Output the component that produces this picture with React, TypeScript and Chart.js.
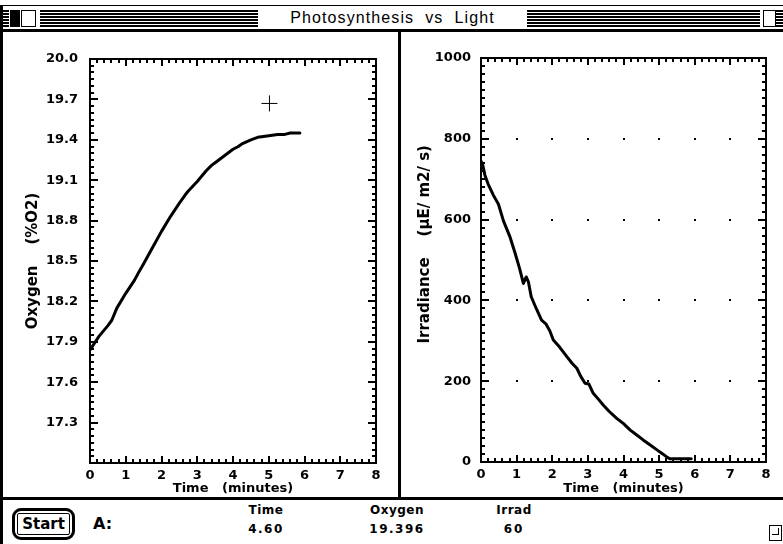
import React, { useEffect, useRef } from 'react';
import { Chart, registerables } from 'chart.js';

Chart.register(...registerables);

// ---------- data ----------
const timeTicks = [0, 1, 2, 3, 4, 5, 6, 7, 8];
const oxygenTicks = [17.3, 17.6, 17.9, 18.2, 18.5, 18.8, 19.1, 19.4, 19.7, 20.0];
const irradTicks = [0, 200, 400, 600, 800, 1000];

const oxygenTime = [0, 0.25, 0.5, 0.61, 0.75, 1, 1.25, 1.35, 1.5, 1.75, 2, 2.25, 2.5, 2.66, 2.75, 3, 3.25, 3.4, 3.5, 3.75, 4, 4.15, 4.25, 4.5, 4.71, 4.75, 5, 5.25, 5.45, 5.6, 5.87];
const oxygenValues = [17.84, 17.94, 18.02, 18.06, 18.15, 18.26, 18.36, 18.41, 18.48, 18.6, 18.72, 18.83, 18.93, 18.99, 19.02, 19.09, 19.17, 19.21, 19.23, 19.28, 19.33, 19.35, 19.37, 19.4, 19.42, 19.42, 19.43, 19.44, 19.44, 19.45, 19.45];

const cursorTime = [5.02];
const cursorOxygen = [19.67];

const irradTime = [0, 0.05, 0.11, 0.2, 0.35, 0.49, 0.63, 0.81, 0.96, 1.08, 1.19, 1.27, 1.33, 1.41, 1.55, 1.7, 1.82, 1.93, 2.03, 2.2, 2.41, 2.55, 2.69, 2.8, 2.92, 3.03, 3.15, 3.3, 3.43, 3.6, 3.81, 4.0, 4.19, 4.4, 4.56, 4.75, 4.94, 5.1, 5.22, 5.3, 5.9];
const irradValues = [745, 735, 710, 688, 660, 638, 597, 558, 516, 480, 442, 458, 446, 409, 380, 351, 342, 325, 302, 285, 261, 245, 232, 212, 195, 193, 170, 155, 141, 125, 108, 95, 79, 65, 54, 42, 30, 20, 12, 8, 8];

// ---------- helpers ----------
type FrameCfg = {
  xMin: number; xMax: number; xMinor: number; xMajorEvery: number;
  yMin: number; yMax: number; yMinor: number; yMajorEvery: number;
  dots: boolean;
};

function makeFramePlugin(cfg: FrameCfg) {
  return {
    id: 'frameTicks',
    beforeDatasetsDraw(chart: any) {
      const { ctx, chartArea: a, scales } = chart;
      const x = scales.x, y = scales.y;
      ctx.save();
      ctx.strokeStyle = '#000';
      ctx.fillStyle = '#000';
      ctx.lineWidth = 2;
      ctx.strokeRect(a.left, a.top, a.right - a.left, a.bottom - a.top);
      ctx.beginPath();
      const nx = Math.round((cfg.xMax - cfg.xMin) / cfg.xMinor);
      for (let i = 0; i <= nx; i++) {
        const px = Math.round(x.getPixelForValue(cfg.xMin + i * cfg.xMinor));
        const len = i % cfg.xMajorEvery === 0 ? 7 : 4;
        ctx.moveTo(px, a.bottom); ctx.lineTo(px, a.bottom - len);
        ctx.moveTo(px, a.top); ctx.lineTo(px, a.top + len);
      }
      const ny = Math.round((cfg.yMax - cfg.yMin) / cfg.yMinor);
      for (let j = 0; j <= ny; j++) {
        const py = Math.round(y.getPixelForValue(cfg.yMin + j * cfg.yMinor));
        const len = j % cfg.yMajorEvery === 0 ? 8 : 4;
        ctx.moveTo(a.left, py); ctx.lineTo(a.left + len, py);
        ctx.moveTo(a.right, py); ctx.lineTo(a.right - len, py);
      }
      ctx.stroke();
      if (cfg.dots) {
        for (let i = cfg.xMajorEvery; i < nx; i += cfg.xMajorEvery) {
          const px = Math.round(x.getPixelForValue(cfg.xMin + i * cfg.xMinor));
          for (let j = cfg.yMajorEvery; j < ny; j += cfg.yMajorEvery) {
            const py = Math.round(y.getPixelForValue(cfg.yMin + j * cfg.yMinor));
            ctx.fillRect(px - 1, py - 1, 2, 2);
          }
        }
      }
      ctx.restore();
    },
  };
}

const tickFont = { family: 'DejaVu Sans', weight: 'bold' as const, size: 13 };
const titleFont = { family: 'DejaVu Sans', weight: 'bold' as const, size: 13 };

function buildOptions(p: {
  padTop: number; padRight: number; yWidth: number; xHeight: number;
  yMin: number; yMax: number; yTicks: number[]; yFmt: (v: number) => string;
  yPad: number; yTitle: string; yTitlePad: number;
}) {
  return {
    animation: false,
    responsive: false,
    maintainAspectRatio: false,
    events: [],
    layout: { padding: { top: p.padTop, right: p.padRight, left: 0, bottom: 0 } },
    plugins: { legend: { display: false }, tooltip: { enabled: false } },
    scales: {
      x: {
        type: 'linear',
        min: 0,
        max: 8,
        afterBuildTicks: (s: any) => { s.ticks = timeTicks.map((v) => ({ value: v })); },
        afterFit: (s: any) => { s.height = p.xHeight; },
        grid: { display: false, drawTicks: false },
        border: { display: false },
        ticks: { padding: 5, color: '#000', font: tickFont, autoSkip: false, maxRotation: 0, callback: (v: any) => String(v) },
        title: { display: true, text: 'Time   (minutes)', color: '#000', font: titleFont, padding: { top: 0, bottom: 1 } },
      },
      y: {
        type: 'linear',
        min: p.yMin,
        max: p.yMax,
        afterBuildTicks: (s: any) => { s.ticks = p.yTicks.map((v) => ({ value: v })); },
        afterFit: (s: any) => { s.width = p.yWidth; },
        grid: { display: false, drawTicks: false },
        border: { display: false },
        ticks: { padding: p.yPad, color: '#000', font: tickFont, autoSkip: false, callback: (v: any) => p.yFmt(Number(v)) },
        title: { display: true, text: p.yTitle, color: '#000', font: { ...titleFont, size: 15 }, padding: { top: p.yTitlePad, bottom: 0 } },
      },
    },
  };
}

function OxygenChart() {
  const ref = useRef<HTMLCanvasElement | null>(null);
  useEffect(() => {
    if (!ref.current) return;
    const chart = new Chart(ref.current, {
      type: 'scatter',
      data: {
        datasets: [
          {
            data: oxygenTime.map((t, i) => ({ x: t, y: oxygenValues[i] })),
            showLine: true,
            borderColor: '#000',
            borderWidth: 3,
            pointRadius: 0,
            tension: 0,
            borderJoinStyle: 'round',
            borderCapStyle: 'round',
          },
          {
            data: cursorTime.map((t, i) => ({ x: t, y: cursorOxygen[i] })),
            showLine: false,
            pointStyle: 'cross',
            pointRadius: 8,
            borderColor: '#000',
            backgroundColor: '#000',
            borderWidth: 1,
          },
        ],
      },
      options: buildOptions({
        padTop: 27, padRight: 22, yWidth: 87, xHeight: 34,
        yMin: 17, yMax: 20, yTicks: oxygenTicks, yFmt: (v) => v.toFixed(1),
        yPad: 12, yTitle: 'Oxygen    (%O2)', yTitlePad: 21,
      }) as any,
      plugins: [makeFramePlugin({ xMin: 0, xMax: 8, xMinor: 0.2, xMajorEvery: 5, yMin: 17, yMax: 20, yMinor: 0.05, yMajorEvery: 6, dots: false })],
    });
    return () => chart.destroy();
  }, []);
  return <canvas ref={ref} width={395} height={465} style={{ position: 'absolute', left: 3, top: 32, width: 395, height: 465 }} />;
}

function IrradChart() {
  const ref = useRef<HTMLCanvasElement | null>(null);
  useEffect(() => {
    if (!ref.current) return;
    const chart = new Chart(ref.current, {
      type: 'scatter',
      data: {
        datasets: [
          {
            data: irradTime.map((t, i) => ({ x: t, y: irradValues[i] })),
            showLine: true,
            borderColor: '#000',
            borderWidth: 3,
            pointRadius: 0,
            tension: 0,
            borderJoinStyle: 'round',
            borderCapStyle: 'round',
          },
        ],
      },
      options: buildOptions({
        padTop: 26, padRight: 17, yWidth: 80, xHeight: 35,
        yMin: 0, yMax: 1000, yTicks: irradTicks, yFmt: (v) => String(Math.round(v)),
        yPad: 10, yTitle: '      Irradiance    (µE/ m2/ s)', yTitlePad: 15,
      }) as any,
      plugins: [makeFramePlugin({ xMin: 0, xMax: 8, xMinor: 0.2, xMajorEvery: 5, yMin: 0, yMax: 1000, yMinor: 20, yMajorEvery: 10, dots: true })],
    });
    return () => chart.destroy();
  }, []);
  return <canvas ref={ref} width={382} height={465} style={{ position: 'absolute', left: 401, top: 32, width: 382, height: 465 }} />;
}

const stripes = 'repeating-linear-gradient(to bottom, #000 0px, #000 2px, #fff 2px, #fff 3px)';

export default function App() {
  const abs = (s: React.CSSProperties): React.CSSProperties => ({ position: 'absolute', ...s });
  const lbl: React.CSSProperties = { fontFamily: 'DejaVu Sans', fontWeight: 'bold', fontSize: 12, color: '#000', whiteSpace: 'pre', textAlign: 'center', letterSpacing: 0.5 };
  return (
    <div style={{ position: 'absolute', left: 0, top: 0, width: 783, height: 544, background: '#fff', overflow: 'hidden' }}>
      {/* title bar */}
      <div style={abs({ left: 0, top: 5, width: 783, height: 1, background: '#000' })} />
      <div style={abs({ left: 2, top: 10, width: 7, height: 17, background: stripes })} />
      <div style={abs({ left: 10, top: 10, width: 10, height: 17, background: '#000' })} />
      <div style={abs({ left: 21, top: 10, width: 13, height: 15, border: '1.5px solid #000', background: '#fff' })} />
      <div style={abs({ left: 40, top: 10, width: 218, height: 17, background: stripes })} />
      <div style={abs({ left: 258, top: 7, width: 269, height: 22, fontFamily: 'Liberation Sans', fontSize: 16, lineHeight: '22px', textAlign: 'center', whiteSpace: 'pre', letterSpacing: 1.1, color: '#000' })}>
        Photosynthesis  vs  Light
      </div>
      <div style={abs({ left: 527, top: 10, width: 233, height: 17, background: stripes })} />
      <div style={abs({ left: 763, top: 10, width: 11, height: 15, border: '1.5px solid #000', background: '#fff' })} />
      <div style={abs({ left: 776, top: 10, width: 7, height: 17, background: stripes })} />
      <div style={abs({ left: 0, top: 29, width: 783, height: 3, background: '#000' })} />
      {/* panel borders */}
      <div style={abs({ left: 0, top: 5, width: 3, height: 539, background: '#000' })} />
      <div style={abs({ left: 398, top: 32, width: 3, height: 466, background: '#000' })} />
      <div style={abs({ left: 0, top: 497, width: 783, height: 3, background: '#000' })} />

      <OxygenChart />
      <IrradChart />

      {/* bottom bar */}
      <div style={abs({ left: 12, top: 508, width: 57, height: 26, border: '3px solid #000', borderRadius: 9 })} />
      <div style={abs({ left: 17, top: 513, width: 51, height: 20, border: '1.5px solid #000', borderRadius: 2, fontFamily: 'DejaVu Sans', fontWeight: 'bold', fontSize: 15, lineHeight: '20px', textAlign: 'center', color: '#000' })}>
        Start
      </div>
      <div style={abs({ left: 93, top: 514, fontFamily: 'DejaVu Sans', fontWeight: 'bold', fontSize: 16, color: '#000' })}>A:</div>
      <div style={abs({ ...lbl, left: 236, top: 503, width: 60 })}>Time</div>
      <div style={abs({ ...lbl, left: 236, top: 522, width: 60, letterSpacing: 1.5 })}>4.60</div>
      <div style={abs({ ...lbl, left: 352, top: 503, width: 90 })}>Oxygen</div>
      <div style={abs({ ...lbl, left: 352, top: 522, width: 90, letterSpacing: 1.5 })}>19.396</div>
      <div style={abs({ ...lbl, left: 484, top: 503, width: 60 })}>Irrad</div>
      <div style={abs({ ...lbl, left: 484, top: 522, width: 60, letterSpacing: 2 })}>60</div>
      <div style={abs({ left: 769, top: 525, width: 11, height: 14, border: '1.5px solid #000', background: '#fff' })} />
      <div style={abs({ left: 772, top: 528, width: 6, height: 6, borderRight: '1.5px solid #000', borderBottom: '1.5px solid #000' })} />
    </div>
  );
}
